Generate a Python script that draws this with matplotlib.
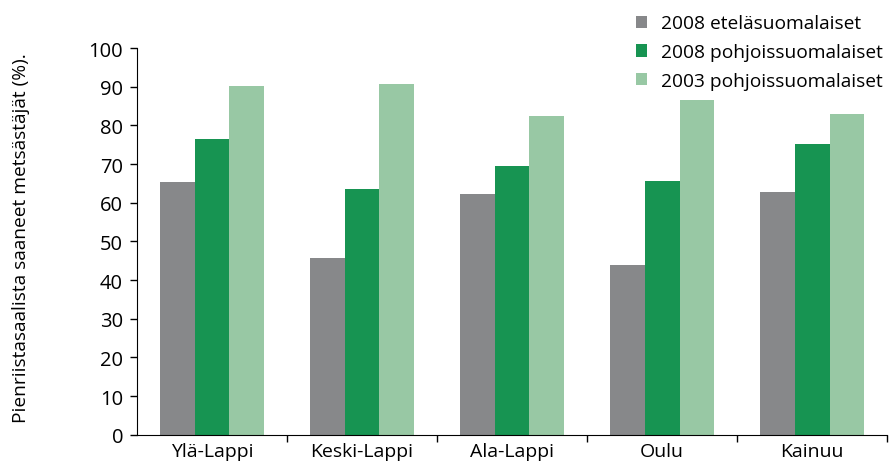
import numpy as np
import matplotlib.pyplot as plt

plt.rcParams['font.family'] = ['Open Sans', 'DejaVu Sans']

regions = ['Ylä-Lappi', 'Keski-Lappi', 'Ala-Lappi', 'Oulu', 'Kainuu']
south_2008 = [65.3, 45.6, 62.2, 43.9, 62.9]
north_2008 = [76.4, 63.6, 69.6, 65.6, 75.3]
north_2003 = [90.1, 90.7, 82.4, 86.5, 82.9]
series_names = ['2008 eteläsuomalaiset', '2008 pohjoissuomalaiset', '2003 pohjoissuomalaiset']
colors = ['#87888a', '#179452', '#98c8a4']

fig = plt.figure(figsize=(8.89, 4.64), dpi=100)
ax = fig.add_axes([0.1541, 0.061, 0.8437, 0.833])

x = np.arange(len(regions))
w = 0.233
for i, vals in enumerate([south_2008, north_2008, north_2003]):
    ax.bar(x + (i - 1) * w, vals, width=w, color=colors[i], label=series_names[i])

ax.set_xlim(-0.5, len(regions) - 0.5)
ax.set_ylim(0, 100)
ax.set_yticks(range(0, 101, 10))
ax.set_xticks(x)
ax.set_xticklabels(regions, fontsize=14)
ax.set_xticks(np.arange(0.5, len(regions), 1), minor=True)
ax.tick_params(axis='x', which='major', length=0, pad=5)
ax.tick_params(axis='x', which='minor', length=5, direction='out', width=1)
ax.tick_params(axis='y', labelsize=14.5, length=5, width=1, pad=5)
ax.spines['top'].set_visible(False)
ax.spines['right'].set_visible(False)
ax.set_ylabel('Pienriistasaalista saaneet metsästäjät (%).', fontsize=13.8)
ax.yaxis.set_label_coords(-0.142, 0.51)

ax.legend(loc='upper right', bbox_to_anchor=(1.004, 1.107), bbox_transform=ax.transAxes,
          frameon=False, fontsize=13.8, handlelength=0.6, handleheight=0.6,
          handletextpad=0.7, labelspacing=0.56, borderaxespad=0)

plt.savefig('out.png', dpi=100)
